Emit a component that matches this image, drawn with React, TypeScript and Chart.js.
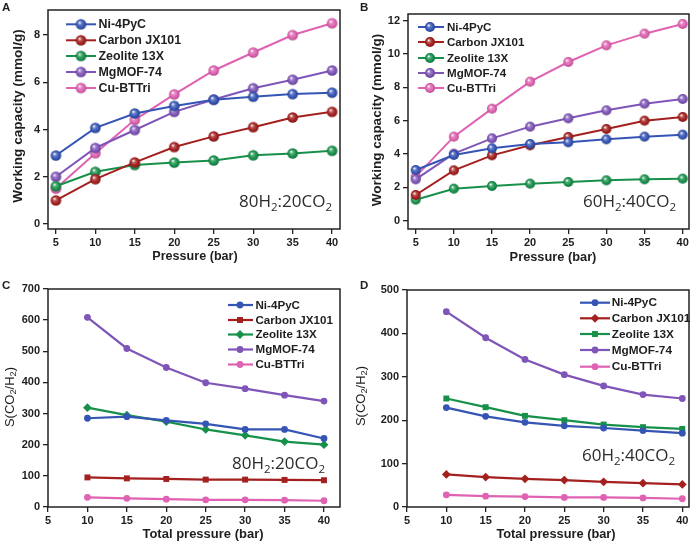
import React, { useEffect, useRef } from "react";
import { Chart, registerables } from "chart.js";

Chart.register(...registerables);

// ---------------- DATA ----------------
const MATERIALS = ["Ni-4PyC", "Carbon JX101", "Zeolite 13X", "MgMOF-74", "Cu-BTTri"];
const COLORS = ["#3555b5", "#a3201f", "#17914a", "#7f55b8", "#e062b2"];

const PRESSURE_AB = [5, 10, 15, 20, 25, 30, 35, 40];
const PRESSURE_CD = [10, 15, 20, 25, 30, 35, 40];
const X_TICKS = [5, 10, 15, 20, 25, 30, 35, 40];

const A_NI = [2.9, 4.07, 4.68, 5.0, 5.26, 5.39, 5.5, 5.56];
const A_CARBON = [1.0, 1.9, 2.61, 3.26, 3.71, 4.1, 4.51, 4.75];
const A_ZEOLITE = [1.6, 2.21, 2.5, 2.6, 2.69, 2.91, 2.99, 3.1];
const A_MGMOF = [2.0, 3.22, 3.98, 4.75, 5.27, 5.75, 6.11, 6.5];
const A_CUBTTRI = [1.5, 3.0, 4.41, 5.49, 6.5, 7.26, 8.0, 8.5];
const A_Y_TICKS = [0, 2, 4, 6, 8];

const B_NI = [3.04, 3.94, 4.34, 4.6, 4.7, 4.88, 5.04, 5.16];
const B_CARBON = [1.54, 3.02, 3.92, 4.52, 5.02, 5.5, 6.0, 6.22];
const B_ZEOLITE = [1.26, 1.92, 2.08, 2.22, 2.32, 2.42, 2.48, 2.52];
const B_MGMOF = [2.48, 4.02, 4.94, 5.64, 6.14, 6.62, 7.02, 7.3];
const B_CUBTTRI = [2.64, 5.04, 6.72, 8.34, 9.52, 10.52, 11.22, 11.8];
const B_Y_TICKS = [0, 2, 4, 6, 8, 10, 12];

const C_NI = [285, 290, 278, 267, 249, 249, 220];
const C_CARBON = [95, 92, 90, 88, 88, 87, 86];
const C_ZEOLITE = [319, 295, 274, 249, 230, 210, 200];
const C_MGMOF = [609, 509, 448, 399, 380, 359, 340];
const C_CUBTTRI = [31, 28, 25, 23, 23, 22, 20];
const C_Y_TICKS = [0, 100, 200, 300, 400, 500, 600, 700];

const D_NI = [229, 209, 195, 187, 182, 176, 170];
const D_CARBON = [75, 69, 65, 62, 58, 55, 52];
const D_ZEOLITE = [250, 230, 210, 200, 190, 184, 180];
const D_MGMOF = [450, 390, 340, 305, 279, 259, 250];
const D_CUBTTRI = [28, 25, 24, 22, 22, 21, 19];
const D_Y_TICKS = [0, 100, 200, 300, 400, 500];

const MIX_80_20: [string, boolean][] = [["80H", false], ["2", true], [":20CO", false], ["2", true]];
const MIX_60_40: [string, boolean][] = [["60H", false], ["2", true], [":40CO", false], ["2", true]];
const SELECTIVITY_TITLE: [string, boolean][] = [["S(CO", false], ["2", true], ["/H", false], ["2", true], [")", false]];
const CAPACITY_TITLE: [string, boolean][] = [["Working capacity (mmol/g)", false]];

// ---------------- STYLE / LAYOUT ----------------
const W = 350;
const H = 271;
const SANS = '"Liberation Sans", Arial, sans-serif';
const TEXT = "#1e1e1e";

function shade(hex: string, f: number) {
  const n = parseInt(hex.slice(1), 16);
  const ch = [(n >> 16) & 255, (n >> 8) & 255, n & 255].map((v) =>
    f <= 1 ? Math.round(v * f) : Math.round(v + (255 - v) * (f - 1))
  );
  return `rgb(${ch[0]},${ch[1]},${ch[2]})`;
}

function makeSphere(color: string, r: number) {
  const c = document.createElement("canvas");
  const s = Math.ceil(r * 2 + 2);
  c.width = s;
  c.height = s;
  const ctx = c.getContext("2d")!;
  const cx = s / 2;
  const cy = s / 2;
  const g = ctx.createRadialGradient(cx - r * 0.3, cy - r * 0.35, r * 0.05, cx, cy, r);
  g.addColorStop(0, "#ffffff");
  g.addColorStop(0.3, shade(color, 1.25));
  g.addColorStop(0.7, color);
  g.addColorStop(1, shade(color, 0.78));
  ctx.beginPath();
  ctx.arc(cx, cy, r, 0, Math.PI * 2);
  ctx.fillStyle = g;
  ctx.fill();
  return c;
}

function drawParts(ctx: CanvasRenderingContext2D, parts: [string, boolean][], x: number, y: number, font: (s: number) => string, size: number, subSize: number, subDy: number, align: "left" | "center") {
  let total = 0;
  const widths = parts.map(([t, sub]) => {
    ctx.font = font(sub ? subSize : size);
    const w = ctx.measureText(t).width;
    total += w;
    return w;
  });
  let cx = align === "center" ? x - total / 2 : x;
  parts.forEach(([t, sub], i) => {
    ctx.font = font(sub ? subSize : size);
    ctx.fillText(t, cx, sub ? y + subDy : y);
    cx += widths[i];
  });
}

type Panel = {
  key: string;
  left: number;
  top: number;
  letter: string;
  letterPos: [number, number];
  xs: number[];
  series: number[][];
  area: { left: number; top: number; right: number; bottom: number };
  xMin: number;
  xMax: number;
  yMin: number;
  yMax: number;
  yTicks: number[];
  xTitle: string;
  xTitlePos: [number, number];
  xTitleSize: number;
  yTitle: [string, boolean][];
  yTitleBold: boolean;
  yTitlePos: [number, number];
  yTitleSize: number;
  legendLine: [number, number, number, number];
  legendRows: number[];
  legendSize: number;
  mix: [string, boolean][];
  mixPos: [number, number];
  markers: string[] | null;
  lineWidth: number;
  sphereR: number;
};

const PANELS: Panel[] = [
  {
    key: "A", left: 0, top: 0, letter: "A", letterPos: [2, 11],
    xs: PRESSURE_AB, series: [A_NI, A_CARBON, A_ZEOLITE, A_MGMOF, A_CUBTTRI],
    area: { left: 48, top: 10, right: 340, bottom: 229 },
    xMin: 4, xMax: 41, yMin: -0.21, yMax: 9.06, yTicks: A_Y_TICKS,
    xTitle: "Pressure (bar)", xTitlePos: [195, 257], xTitleSize: 12.6,
    yTitle: CAPACITY_TITLE, yTitleBold: true, yTitlePos: [18, 116], yTitleSize: 13.6,
    legendLine: [66, 96, 81, 98.5], legendRows: [24.3, 40.3, 56, 72, 88], legendSize: 12.4,
    mix: MIX_80_20, mixPos: [239, 207], markers: null, lineWidth: 2, sphereR: 5.3,
  },
  {
    key: "B", left: 350, top: 0, letter: "B", letterPos: [10, 11],
    xs: PRESSURE_AB, series: [B_NI, B_CARBON, B_ZEOLITE, B_MGMOF, B_CUBTTRI],
    area: { left: 58, top: 14, right: 339, bottom: 229 },
    xMin: 3.99, xMax: 40.83, yMin: -0.5, yMax: 12.4, yTicks: B_Y_TICKS,
    xTitle: "Pressure (bar)", xTitlePos: [203, 257], xTitleSize: 12.8,
    yTitle: CAPACITY_TITLE, yTitleBold: true, yTitlePos: [27, 120], yTitleSize: 13.5,
    legendLine: [68, 94, 80, 97], legendRows: [27, 42, 58, 73, 88], legendSize: 11.6,
    mix: MIX_60_40, mixPos: [233, 207], markers: null, lineWidth: 2, sphereR: 5,
  },
  {
    key: "C", left: 0, top: 271, letter: "C", letterPos: [2, 18],
    xs: PRESSURE_CD, series: [C_NI, C_CARBON, C_ZEOLITE, C_MGMOF, C_CUBTTRI],
    area: { left: 48, top: 18, right: 340, bottom: 236 },
    xMin: 5, xMax: 42.03, yMin: 0, yMax: 700, yTicks: C_Y_TICKS,
    xTitle: "Total pressure (bar)", xTitlePos: [203, 263], xTitleSize: 13,
    yTitle: SELECTIVITY_TITLE, yTitleBold: false, yTitlePos: [10, 126], yTitleSize: 13,
    legendLine: [228, 253, 240, 255.5], legendRows: [34, 49, 63.5, 78.5, 93.5], legendSize: 11.6,
    mix: MIX_80_20, mixPos: [232, 198], markers: ["circle", "rect", "rectRot", "circle", "circle"], lineWidth: 2.2, sphereR: 0,
  },
  {
    key: "D", left: 350, top: 271, letter: "D", letterPos: [10, 18],
    xs: PRESSURE_CD, series: [D_NI, D_CARBON, D_ZEOLITE, D_MGMOF, D_CUBTTRI],
    area: { left: 57, top: 19, right: 339, bottom: 236 },
    xMin: 5, xMax: 40.85, yMin: 0, yMax: 500, yTicks: D_Y_TICKS,
    xTitle: "Total pressure (bar)", xTitlePos: [206, 263], xTitleSize: 12.8,
    yTitle: SELECTIVITY_TITLE, yTitleBold: false, yTitlePos: [11, 125], yTitleSize: 13,
    legendLine: [230, 260, 245, 261.7], legendRows: [31.7, 47.3, 63, 79, 95.7], legendSize: 11.8,
    mix: MIX_60_40, mixPos: [232, 190], markers: ["circle", "rectRot", "rect", "circle", "circle"], lineWidth: 2.2, sphereR: 0,
  },
];

function markerRadius(style: string) {
  if (style === "rect") return 4.2;
  if (style === "rectRot") return 4.4;
  return 3.4;
}

function drawShape(ctx: CanvasRenderingContext2D, style: string, x: number, y: number, color: string) {
  const r = markerRadius(style);
  ctx.fillStyle = color;
  ctx.beginPath();
  if (style === "rect") {
    const h = r / Math.SQRT2;
    ctx.rect(x - h, y - h, 2 * h, 2 * h);
  } else if (style === "rectRot") {
    ctx.moveTo(x, y - r);
    ctx.lineTo(x + r, y);
    ctx.lineTo(x, y + r);
    ctx.lineTo(x - r, y);
    ctx.closePath();
  } else {
    ctx.arc(x, y, r, 0, Math.PI * 2);
  }
  ctx.fill();
}

function PanelChart({ p }: { p: Panel }) {
  const ref = useRef<HTMLCanvasElement>(null);
  useEffect(() => {
    const canvas = ref.current!;
    const spheres = COLORS.map((c) => makeSphere(c, p.sphereR || 4));
    const tickFont = { family: SANS, size: 11, weight: "bold" as const };

    const panelPlugin = {
      id: "panelDecor" + p.key,
      beforeDatasetsDraw(chart: any) {
        const { ctx, chartArea: a } = chart;
        ctx.save();
        ctx.strokeStyle = "#222";
        ctx.lineWidth = 1.5;
        ctx.strokeRect(a.left, a.top, a.right - a.left, a.bottom - a.top);
        ctx.restore();
      },
      afterDraw(chart: any) {
        const ctx: CanvasRenderingContext2D = chart.ctx;
        ctx.save();
        ctx.fillStyle = TEXT;
        ctx.textBaseline = "alphabetic";
        ctx.font = `bold 11.5px ${SANS}`;
        ctx.textAlign = "left";
        ctx.fillText(p.letter, p.letterPos[0], p.letterPos[1]);
        ctx.font = `bold ${p.xTitleSize}px ${SANS}`;
        ctx.textAlign = "center";
        ctx.textBaseline = "middle";
        ctx.fillText(p.xTitle, p.xTitlePos[0], p.xTitlePos[1]);
        ctx.save();
        ctx.translate(p.yTitlePos[0], p.yTitlePos[1]);
        ctx.rotate(-Math.PI / 2);
        ctx.textAlign = "left";
        ctx.textBaseline = "middle";
        const yf = (s: number) => `${p.yTitleBold ? "bold " : ""}${s}px ${SANS}`;
        drawParts(ctx, p.yTitle, 0, 0, yf, p.yTitleSize, p.yTitleSize * 0.72, 3.5, "center");
        ctx.restore();
        ctx.fillStyle = "#2c2c2c";
        ctx.textAlign = "left";
        ctx.textBaseline = "alphabetic";
        const mf = (s: number) => `${s}px "Open Sans", "Noto Sans", sans-serif`;
        drawParts(ctx, p.mix, p.mixPos[0], p.mixPos[1], mf, 17, 11.5, 3.5, "left");
        const [x0, x1, mx, tx] = p.legendLine;
        chart.data.datasets.forEach((ds: any, i: number) => {
          const y = p.legendRows[i];
          ctx.strokeStyle = COLORS[i];
          ctx.lineWidth = p.lineWidth;
          ctx.beginPath();
          ctx.moveTo(x0, y);
          ctx.lineTo(x1, y);
          ctx.stroke();
          if (p.markers) {
            drawShape(ctx, p.markers[i], mx, y, COLORS[i]);
          } else {
            const img = spheres[i];
            ctx.drawImage(img, mx - img.width / 2, y - img.height / 2);
          }
          ctx.fillStyle = TEXT;
          ctx.font = `bold ${p.legendSize}px ${SANS}`;
          ctx.textBaseline = "middle";
          ctx.fillText(ds.label, tx, y + 0.5);
        });
        ctx.restore();
      },
    };

    const chart = new Chart(canvas, {
      type: "line",
      data: {
        datasets: p.series.map((vals, i) => ({
          label: MATERIALS[i],
          data: p.xs.map((x, j) => ({ x, y: vals[j] })),
          borderColor: COLORS[i],
          backgroundColor: COLORS[i],
          borderWidth: p.lineWidth,
          pointStyle: p.markers ? p.markers[i] : spheres[i],
          pointRadius: p.markers ? markerRadius(p.markers[i]) : 5,
          pointBorderWidth: 0,
          pointBorderColor: COLORS[i],
          pointBackgroundColor: COLORS[i],
          tension: 0,
          clip: 8,
        })),
      },
      options: {
        responsive: false,
        animation: false,
        devicePixelRatio: 1,
        events: [],
        layout: { padding: { left: 0, top: p.area.top, right: W - p.area.right, bottom: 0 } },
        plugins: { legend: { display: false }, tooltip: { enabled: false }, title: { display: false } },
        scales: {
          x: {
            type: "linear",
            min: p.xMin,
            max: p.xMax,
            afterFit: (s: any) => { s.height = H - p.area.bottom; },
            afterBuildTicks: (s: any) => { s.ticks = X_TICKS.map((v) => ({ value: v })); },
            ticks: { font: tickFont, color: TEXT, padding: 2, maxRotation: 0, autoSkip: false },
            grid: { drawOnChartArea: false, drawTicks: true, tickLength: 5, color: "#222", lineWidth: 1.3 },
            border: { display: false },
          },
          y: {
            type: "linear",
            min: p.yMin,
            max: p.yMax,
            afterFit: (s: any) => { s.width = p.area.left; },
            afterBuildTicks: (s: any) => { s.ticks = p.yTicks.map((v) => ({ value: v })); },
            ticks: { font: tickFont, color: TEXT, padding: 3, autoSkip: false },
            grid: { drawOnChartArea: false, drawTicks: true, tickLength: 5, color: "#222", lineWidth: 1.3 },
            border: { display: false },
          },
        },
      } as any,
      plugins: [panelPlugin],
    });
    return () => chart.destroy();
  }, [p]);
  return (
    <canvas
      ref={ref}
      width={W}
      height={H}
      style={{ position: "absolute", left: p.left, top: p.top, width: W, height: H, display: "block" }}
    />
  );
}

export default function App() {
  return (
    <div style={{ position: "fixed", left: 0, top: 0, width: 700, height: 542, background: "#ffffff", overflow: "hidden" }}>
      {PANELS.map((p) => (
        <PanelChart key={p.key} p={p} />
      ))}
    </div>
  );
}
